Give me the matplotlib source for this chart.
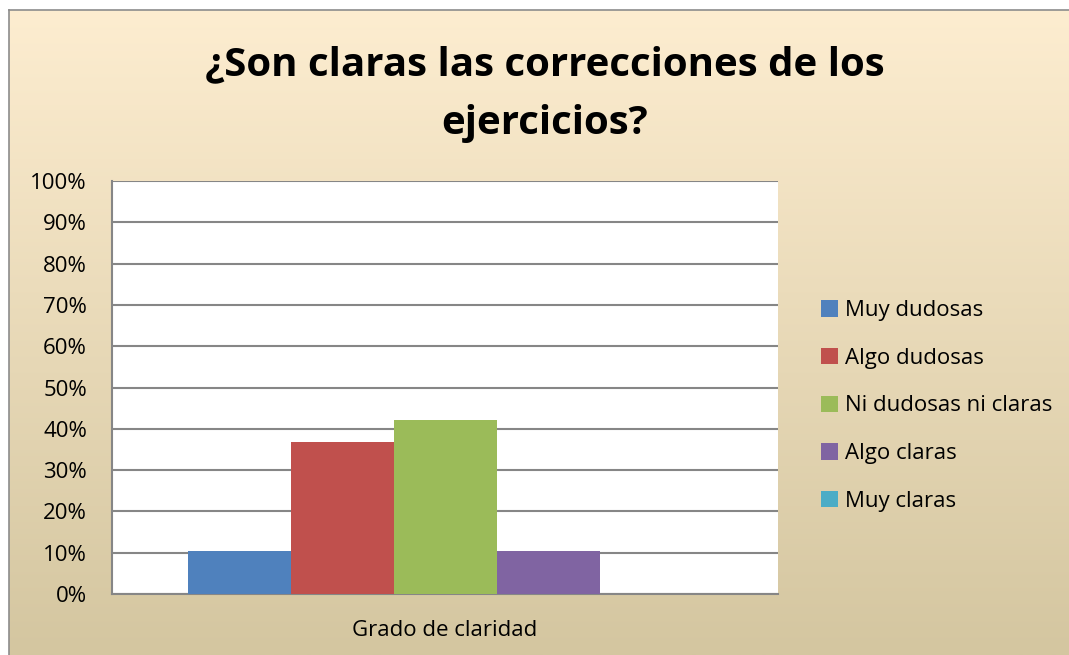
import numpy as np
import matplotlib.pyplot as plt
from matplotlib.ticker import PercentFormatter

plt.rcParams["font.family"] = ["Open Sans", "DejaVu Sans"]

title = "¿Son claras las correcciones de los\nejercicios?"
category = "Grado de claridad"
series = ["Muy dudosas", "Algo dudosas", "Ni dudosas ni claras", "Algo claras", "Muy claras"]
values = [10.5, 36.8, 42.1, 10.5, 0.0]
colors = ["#4F81BD", "#C0504D", "#9BBB59", "#8064A2", "#4BACC6"]

W, H = 1069, 655
fig = plt.figure(figsize=(W / 100, H / 100), dpi=100)
fig.patch.set_facecolor("white")

# background panel with vertical gradient
bg = fig.add_axes([9 / W, 0, 1 - 9 / W, (H - 10) / H], zorder=0)
top_rgb = np.array([253, 237, 208]) / 255
bot_rgb = np.array([212, 198, 160]) / 255
t = np.linspace(0, 1, 256)[:, None]
grad = top_rgb * (1 - t) + bot_rgb * t
bg.imshow(grad[:, None, :], aspect="auto", extent=[0, 1, 0, 1])
bg.set_xticks([])
bg.set_yticks([])
for side in ["right", "bottom"]:
    bg.spines[side].set_visible(False)
for side in ["left", "top"]:
    bg.spines[side].set_color("#8C8C8C")
    bg.spines[side].set_linewidth(1.2)

ax = fig.add_axes([112 / W, (H - 594) / H, 666 / W, 413 / H], zorder=1)
ax.set_facecolor("white")

bw = 103 / 666
xs = (np.arange(len(series)) - 2) * bw
for x, v, c, name in zip(xs, values, colors, series):
    ax.bar(x, v, width=bw, color=c, label=name, zorder=3)

ax.set_xlim(-0.5, 0.5)
ax.set_ylim(0, 100)
ax.set_yticks(np.arange(0, 101, 10))
ax.yaxis.set_major_formatter(PercentFormatter(decimals=0))
ax.grid(axis="y", color="#868686", linewidth=1.5, zorder=0)
ax.set_xticks([0])
ax.set_xticklabels([category])
ax.tick_params(axis="x", length=0, labelsize=16, pad=19)
ax.tick_params(axis="y", length=0, labelsize=16, pad=18)
for side in ["top", "right"]:
    ax.spines[side].set_visible(False)
for side in ["left", "bottom"]:
    ax.spines[side].set_color("#868686")
    ax.spines[side].set_linewidth(1.5)

fig.text(545 / W, 1 - 94 / H, title, ha="center", va="center",
         fontsize=29, fontweight="bold", linespacing=1.65)

ax.legend(loc="center left", bbox_to_anchor=(821 / W, 1 - 406 / H),
          bbox_transform=fig.transFigure, frameon=False, borderpad=0,
          borderaxespad=0, fontsize=16, handlelength=0.75, handleheight=0.75,
          handletextpad=0.35, labelspacing=1.2)

fig.savefig("out.png", dpi=100)
